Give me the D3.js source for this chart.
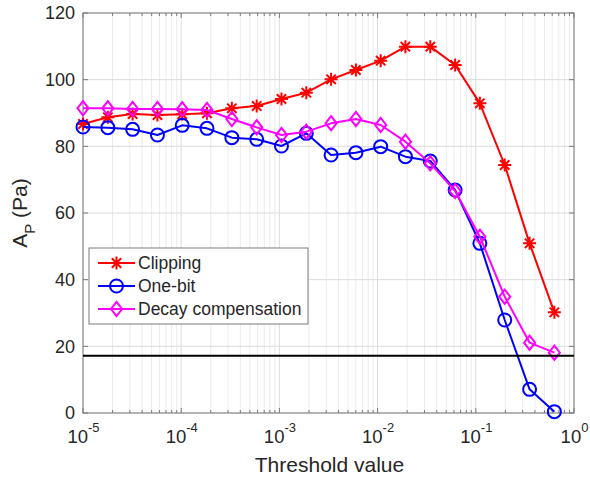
<!DOCTYPE html>
<html>
<head>
<meta charset="utf-8">
<script src="https://cdn.jsdelivr.net/npm/d3@7"></script>
<style>
  body { margin: 0; background: #fff; }
  svg { display: block; font-family: 'Liberation Sans', Arial, sans-serif; }
</style>
</head>
<body>
<div id="chart"></div>
<script>
// threshold values (log spaced)
const thresholds = [1e-5, 1.79e-5, 3.2e-5, 5.73e-5, 1.025e-4, 1.83e-4, 3.28e-4, 5.87e-4,
  1.05e-3, 1.88e-3, 3.36e-3, 6.01e-3, 1.075e-2, 1.92e-2, 3.44e-2, 6.16e-2, 0.110, 0.197, 0.353, 0.631];

const clipping = [86.7, 88.7, 89.7, 89.4, 89.6, 89.9, 91.4, 92.1, 94.2, 96.1,
  100.1, 102.9, 105.7, 109.9, 109.9, 104.4, 92.9, 74.4, 50.9, 30.2];
const oneBit = [85.8, 85.6, 85.1, 83.4, 86.3, 85.4, 82.6, 82.1, 80.1, 83.9,
  77.4, 78.1, 79.9, 76.9, 75.6, 66.9, 50.9, 27.9, 7.1, 0.4];
const decay = [91.4, 91.4, 91.2, 91.2, 91.1, 90.9, 88.2, 85.7, 83.4, 84.4,
  86.9, 88.2, 86.4, 81.4, 74.9, 66.6, 52.9, 34.9, 21.1, 18.1];

const refLevel = 17.2;

const series = [
  {name: 'Clipping', values: clipping, color: '#ff0000', marker: 'star'},
  {name: 'One-bit', values: oneBit, color: '#0000ff', marker: 'circle'},
  {name: 'Decay compensation', values: decay, color: '#ff00ff', marker: 'diamond'}
];

const yTicks = [0, 20, 40, 60, 80, 100, 120];
const xDecades = [-5, -4, -3, -2, -1, 0];

const width = 590, height = 478;
const marginLeft = 83, marginRight = 16, marginTop = 13, marginBottom = 65;

const x = d3.scaleLog().domain([1e-5, 1]).range([marginLeft, width - marginRight]);
const y = d3.scaleLinear().domain([0, 120]).range([height - marginBottom, marginTop]);

const svg = d3.select('#chart').append('svg')
  .attr('width', width)
  .attr('height', height)
  .attr('viewBox', [0, 0, width, height]);

// minor x grid
const minorX = [];
xDecades.slice(0, -1).forEach(e => {
  for (let m = 2; m <= 9; m++) minorX.push(m * Math.pow(10, e));
});

svg.append('g')
  .attr('stroke', '#ebebeb')
  .selectAll('line')
  .data(minorX)
  .join('line')
  .attr('x1', d => x(d)).attr('x2', d => x(d))
  .attr('y1', y(0)).attr('y2', y(120));

// major grid
svg.append('g')
  .attr('stroke', '#dcdcdc')
  .call(g => g.selectAll('.vx')
    .data(xDecades)
    .join('line')
    .attr('x1', d => x(Math.pow(10, d))).attr('x2', d => x(Math.pow(10, d)))
    .attr('y1', y(0)).attr('y2', y(120)))
  .call(g => g.selectAll('.hy')
    .data(yTicks)
    .join('line')
    .attr('x1', x.range()[0]).attr('x2', x.range()[1])
    .attr('y1', d => y(d)).attr('y2', d => y(d)));

// ticks inside the box on all sides
const tickG = svg.append('g').attr('stroke', '#7a7a7a');
[y(0), y(120)].forEach((yy, i) => {
  const dir = i === 0 ? -1 : 1;
  tickG.append('g').selectAll('line')
    .data(xDecades)
    .join('line')
    .attr('x1', d => x(Math.pow(10, d))).attr('x2', d => x(Math.pow(10, d)))
    .attr('y1', yy).attr('y2', yy + dir * 5);
  tickG.append('g').selectAll('line')
    .data(minorX)
    .join('line')
    .attr('x1', d => x(d)).attr('x2', d => x(d))
    .attr('y1', yy).attr('y2', yy + dir * 3);
});
[x.range()[0], x.range()[1]].forEach((xx, i) => {
  const dir = i === 0 ? 1 : -1;
  tickG.append('g').selectAll('line')
    .data(yTicks)
    .join('line')
    .attr('x1', xx).attr('x2', xx + dir * 5)
    .attr('y1', d => y(d)).attr('y2', d => y(d));
});

// y axis labels
svg.append('g')
  .attr('transform', `translate(${marginLeft},0)`)
  .call(d3.axisLeft(y).tickValues(yTicks).tickSize(0).tickPadding(8))
  .call(g => g.select('.domain').remove())
  .call(g => g.selectAll('text')
    .attr('font-size', 18)
    .attr('font-family', "'Liberation Sans', Arial, sans-serif")
    .attr('fill', '#262626'));

// x axis labels with superscripts
svg.append('g')
  .attr('transform', `translate(0,${height - marginBottom})`)
  .call(d3.axisBottom(x).tickValues(xDecades.map(e => Math.pow(10, e))).tickSize(0).tickFormat(() => ''))
  .call(g => g.select('.domain').remove())
  .call(g => g.selectAll('.tick text')
    .attr('y', 30).attr('dy', 0)
    .attr('font-family', "'Liberation Sans', Arial, sans-serif")
    .attr('fill', '#262626')
    .attr('text-anchor', 'middle')
    .each(function(d) {
      const e = Math.round(Math.log10(d));
      const t = d3.select(this);
      t.append('tspan').attr('font-size', 18.5).text('10');
      t.append('tspan').attr('font-size', 13).attr('dy', -11).text(String(e));
    }));

// box
svg.append('rect')
  .attr('x', x.range()[0]).attr('y', y(120))
  .attr('width', x.range()[1] - x.range()[0])
  .attr('height', y(0) - y(120))
  .attr('fill', 'none')
  .attr('stroke', '#7a7a7a');

// axis titles
svg.append('text')
  .attr('x', (x.range()[0] + x.range()[1]) / 2 + 1)
  .attr('y', 472)
  .attr('text-anchor', 'middle')
  .attr('font-size', 21)
  .attr('fill', '#262626')
  .text('Threshold value');

const yl = svg.append('text')
  .attr('transform', `translate(27,${(y(0) + y(120)) / 2}) rotate(-90)`)
  .attr('text-anchor', 'middle')
  .attr('font-size', 21)
  .attr('fill', '#262626');
yl.append('tspan').text('A');
yl.append('tspan').attr('font-size', 15).attr('dy', 8).text('P');
yl.append('tspan').attr('dy', -8).text(' (Pa)');

// markers
const markerPath = (type, s) => {
  if (type === 'circle') return d3.symbol(d3.symbolCircle, Math.PI * s * s)();
  if (type === 'diamond') return `M0,${-s * 1.1}L${s * 0.85},0L0,${s * 1.1}L${-s * 0.85},0Z`;
  const d = s * 0.72;
  return `M0,${-s}V${s}M${-s},0H${s}M${-d},${-d}L${d},${d}M${-d},${d}L${d},${-d}`;
};

const line = d3.line()
  .x((v, i) => x(thresholds[i]))
  .y(v => y(v));

series.forEach(s => {
  const g = svg.append('g');
  g.append('path')
    .attr('d', line(s.values))
    .attr('fill', 'none')
    .attr('stroke', s.color)
    .attr('stroke-width', 2)
    .attr('stroke-linejoin', 'round');
  g.selectAll('path.m')
    .data(s.values)
    .join('path')
    .attr('class', 'm')
    .attr('transform', (v, i) => `translate(${x(thresholds[i])},${y(v)})`)
    .attr('d', markerPath(s.marker, 6.5))
    .attr('fill', 'none')
    .attr('stroke', s.color)
    .attr('stroke-width', 2);
});

// reference level
svg.append('line')
  .attr('x1', x.range()[0]).attr('x2', x.range()[1])
  .attr('y1', y(refLevel)).attr('y2', y(refLevel))
  .attr('stroke', '#000')
  .attr('stroke-width', 2);

// legend
const legend = svg.append('g').attr('transform', 'translate(89,248)');
legend.append('rect')
  .attr('width', 219).attr('height', 76)
  .attr('fill', '#fff')
  .attr('stroke', '#7a7a7a');
series.forEach((s, i) => {
  const ly = 15 + i * 23;
  legend.append('line')
    .attr('x1', 9).attr('x2', 46)
    .attr('y1', ly).attr('y2', ly)
    .attr('stroke', s.color).attr('stroke-width', 2);
  legend.append('path')
    .attr('transform', `translate(27.5,${ly})`)
    .attr('d', markerPath(s.marker, 6.5))
    .attr('fill', 'none')
    .attr('stroke', s.color).attr('stroke-width', 2);
  legend.append('text')
    .attr('x', 49).attr('y', ly).attr('dy', '0.35em')
    .attr('font-size', 17.5)
    .attr('fill', '#262626')
    .text(s.name);
});
</script>
</body>
</html>
